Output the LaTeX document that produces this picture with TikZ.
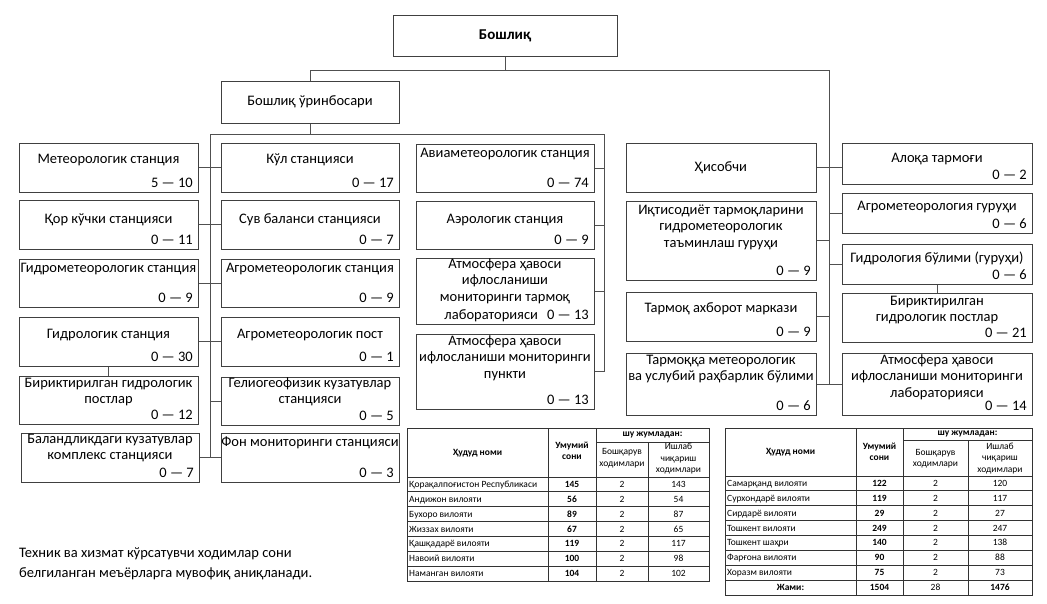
\documentclass[tikz,border=0pt]{standalone}
\usepackage{fontspec}
\setmainfont{Carlito}
\usetikzlibrary{calc}
\definecolor{boxline}{RGB}{64,64,64}
\definecolor{linkgray}{RGB}{80,80,80}

% box with a title near the top and the staff count at the bottom right
\newcommand{\unitbox}[8]{%
  \node[unit,minimum width={(#4-#2)*1pt},minimum height={(#5-#3)*1pt}] (#1) at ({(#2+#4)/2},{(#3+#5)/2}) {};
  \node[unittitle] (#1-t) at ([yshift=-#6pt]#1.north) {#7};
  \node[unitnum] (#1-n) at ([xshift=-5.5pt,yshift=5.5pt]#1.south east) {#8};
}

\begin{document}
\begin{tikzpicture}[x=1pt,y=-1pt,
    unit/.style={draw=boxline,line width=1pt,inner sep=0pt},
    unittitle/.style={anchor=north,align=center,inner sep=0pt,execute at begin node=\strut,
      font=\fontsize{14.5}{16.5}\selectfont},
    unitnum/.style={anchor=base east,inner sep=0pt,font=\fontsize{14.5}{16.5}\selectfont},
    link/.style={draw=linkgray,line width=1pt},
    grid/.style={draw=black!80,line width=0.8pt},
    cell/.style={inner sep=0pt,text height=6.5pt,text depth=0.4pt,font=\fontsize{9.5}{11}\selectfont},
    cellb/.style={cell,font=\fontsize{9.5}{11}\selectfont\bfseries},
    head/.style={inner sep=0pt,align=center,font=\fontsize{9.5}{11.5}\selectfont},
    headb/.style={head,font=\fontsize{9.5}{11.5}\selectfont\bfseries}]
  \useasboundingbox (0,0) rectangle (1047,603);

  % head and deputy
  \node[unit,minimum width=224pt,minimum height=41pt,font=\fontsize{15}{18}\selectfont\bfseries] (boss) at (505,36) {Бошлиқ};
  \node[unit,minimum width=178pt,minimum height=42pt,font=\fontsize{14.5}{16.5}\selectfont] (dep) at (310,102) {Бошлиқ ўринбосари};

  % first column
  \unitbox{A1}{19}{143}{198}{192}{9}{Метеорологик станция}{5 — 10}
  \unitbox{A2}{19}{200}{198}{249}{12}{Қор кўчки станцияси}{0 — 11}
  \unitbox{A3}{19}{259}{198}{307}{2}{Гидрометеорологик станция}{0 — 9}
  \unitbox{A4}{19}{317}{198}{366}{10}{Гидрологик станция}{0 — 30}
  \unitbox{A5}{19}{376}{198}{424}{2}{Бириктирилган гидрологик\\постлар}{0 — 12}
  \unitbox{A6}{21}{433}{199}{482}{1}{Баландликдаги кузатувлар\\комплекс станцияси}{0 — 7}
  % second column
  \unitbox{B1}{221}{143}{399}{192}{9}{Кўл станцияси}{0 — 17}
  \unitbox{B2}{221}{200}{399}{249}{12}{Сув баланси станцияси}{0 — 7}
  \unitbox{B3}{221}{259}{399}{307}{2}{Агрометеорологик станция}{0 — 9}
  \unitbox{B4}{221}{317}{399}{366}{10}{Агрометеорологик пост}{0 — 1}
  \unitbox{B5}{221}{377}{399}{425}{1}{Гелиогеофизик кузатувлар\\станцияси}{0 — 5}
  \unitbox{B6}{221}{433}{399}{482}{2}{Фон мониторинги станцияси}{0 — 3}
  % third column
  \unitbox{C1}{416}{144}{594}{192}{2}{Авиаметеорологик станция}{0 — 74}
  \unitbox{C2}{416}{201}{594}{249}{11}{Аэрологик станция}{0 — 9}
  \unitbox{C3}{416}{258}{594}{324}{1}{Атмосфера ҳавоси\\ифлосланиши\\мониторинги тармоқ}{лабораторияси\hspace{9pt}0 — 13}
  \unitbox{C4}{416}{334}{594}{409}{2}{Атмосфера ҳавоси\\ифлосланиши мониторинги\\пункти}{0 — 13}
  % fourth column
  \unitbox{D1}{626}{143}{816}{192}{17}{Ҳисобчи}{}
  \unitbox{D2}{626}{201}{816}{280}{4}{Иқтисодиёт тармоқларини\\гидрометеорологик\\таъминлаш гуруҳи}{0 — 9}
  \unitbox{D3}{626}{292}{816}{341}{9}{Тармоқ ахборот маркази}{0 — 9}
  \unitbox{D4}{626}{353}{816}{415}{2}{Тармоққа метеорологик\\ва услубий раҳбарлик бўлими}{0 — 6}
  % fifth column
  \unitbox{E1}{842}{143}{1032}{184}{8}{Алоқа тармоғи}{0 — 2}
  \unitbox{E2}{842}{193}{1032}{233}{6}{Агрометеорология гуруҳи}{0 — 6}
  \unitbox{E3}{842}{244}{1032}{284}{7}{Гидрология бўлими (гуруҳи)}{0 — 6}
  \unitbox{E4}{842}{293}{1032}{342}{3}{Бириктирилган\\гидрологик постлар}{0 — 21}
  \unitbox{E5}{842}{353}{1032}{415}{2}{Атмосфера ҳавоси\\ифлосланиши мониторинги\\лабораторияси}{0 — 14}

  % connectors
  \coordinate (barR) at (829,70);
  \coordinate (barA) at (210,134);
  \coordinate (barC) at (604,134);
  \draw[link] (boss.south) -- (boss.south |- barR);
  \draw[link] (dep.north) |- (barR) -- (barR |- D4.east);
  \draw[link] (dep.south) -- (dep.south |- barA);
  \draw[link] (barA) -- (barC) -- (barC |- C4.east) -- (C4.east);
  \draw[link] (barA) -- (barA |- A6.east);
  \foreach \r in {1,2,3,4,6} \draw[link] (A\r.east) -- (B\r.west);
  \draw[link] (B5.west) -- (B5.west -| barA);
  \draw[link] (A4.south) -- (A5.north);
  \foreach \r in {1,2,3} \draw[link] (C\r.east) -- (C\r.east -| barC);
  \draw[link] (D1.east) -- (D1.east -| E1.west);
  \draw[link] (D4.east) -- (E5.west);
  \foreach \r in {2,3} \draw[link] (D\r.east) -- (D\r.east -| barR);
  \foreach \r in {2,3} \draw[link] (E\r.west) -- (E\r.west -| barR);
  \draw[link] (E3.south) -- (E4.north);

  % first table
  \draw[grid] (407,428) rectangle (709,581);
  \draw[grid] (548,428) -- (548,581) (596,428) -- (596,581) (648,442) -- (648,581) (596,442) -- (709,442);
  \foreach \k in {0,...,6} \draw[grid] (407,{477+\k*14.857}) -- (709,{477+\k*14.857});
  \node[headb] (p1) at (477.5,453) {Ҳудуд номи};
  \node[headb] (p2) at (572,451) {Умумий\\сони};
  \node[headb] (p3) at (652.5,435) {шу жумладан:};
  \node[head] (p4) at (622,458) {Бошқарув\\ходимлари};
  \node[head] (p5) at (678.5,459) {Ишлаб\\чиқариш\\ходимлари};
  \foreach \name/\tot/\adm/\work [count=\k] in {Қорақалпоғистон Республикаси/145/2/143,
      Андижон вилояти/56/2/54, Бухоро вилояти/89/2/87, Жиззах вилояти/67/2/65,
      Қашқадарё вилояти/119/2/117, Навоий вилояти/100/2/98, Наманган вилояти/104/2/102} {
    \node[cell,anchor=west] (p\k a) at (409,{469.57+\k*14.857}) {\name};
    \node[cellb] (p\k b) at (572,{469.57+\k*14.857}) {\tot};
    \node[cell] (p\k c) at (622,{469.57+\k*14.857}) {\adm};
    \node[cell] (p\k d) at (678.5,{469.57+\k*14.857}) {\work};
  }

  % second table
  \draw[grid] (725,428) rectangle (1032,595);
  \draw[grid] (856,428) -- (856,595) (903,428) -- (903,595) (968,440) -- (968,595) (903,440) -- (1032,440);
  \foreach \k in {0,...,7} \draw[grid] (725,{476+\k*14.875}) -- (1032,{476+\k*14.875});
  \node[headb] (q1) at (790.5,452) {Ҳудуд номи};
  \node[headb] (q2) at (879.5,452) {Умумий\\сони};
  \node[headb] (q3) at (967.5,434) {шу жумладан:};
  \node[head] (q4) at (935.5,458.5) {Бошқарув\\ходимлари};
  \node[head] (q5) at (1000,458.5) {Ишлаб\\чиқариш\\ходимлари};
  \foreach \name/\tot/\adm/\work [count=\k] in {Самарқанд вилояти/122/2/120,
      Сурхондарё вилояти/119/2/117, Сирдарё вилояти/29/2/27, Тошкент вилояти/249/2/247,
      Тошкент шаҳри/140/2/138, Фарғона вилояти/90/2/88, Хоразм вилояти/75/2/73} {
    \node[cell,anchor=west] (q\k a) at (727,{468.56+\k*14.875}) {\name};
    \node[cellb] (q\k b) at (879.5,{468.56+\k*14.875}) {\tot};
    \node[cell] (q\k c) at (935.5,{468.56+\k*14.875}) {\adm};
    \node[cell] (q\k d) at (1000,{468.56+\k*14.875}) {\work};
  }
  \node[cellb] (q8a) at (790.5,587.56) {Жами:};
  \node[cellb] (q8b) at (879.5,587.56) {1504};
  \node[cell] (q8c) at (935.5,587.56) {28};
  \node[cellb] (q8d) at (1000,587.56) {1476};

  % note
  \node[anchor=west,align=left,inner sep=0pt,font=\fontsize{14.5}{20}\selectfont] (note) at (19,564)
    {Техник ва хизмат кўрсатувчи ходимлар сони\\белгиланган меъёрларга мувофиқ аниқланади.};
\end{tikzpicture}
\end{document}
